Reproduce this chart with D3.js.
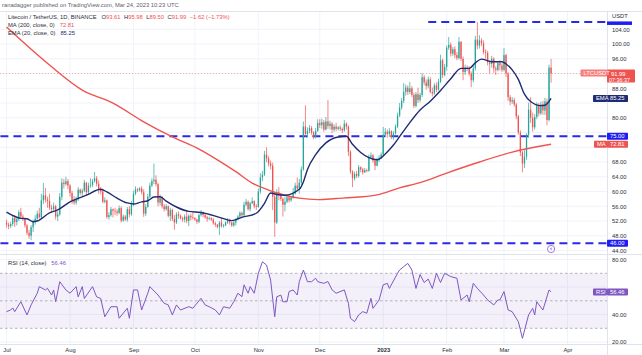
<!DOCTYPE html>
<html><head><meta charset="utf-8">
<script src="https://cdn.jsdelivr.net/npm/d3@7/dist/d3.min.js"></script>
<style>
html,body{margin:0;padding:0;background:#fff;}
svg{display:block;}
text{font-family:"Liberation Sans","DejaVu Sans",Arial,sans-serif;}
</style></head><body>
<svg id="chart" width="642" height="355"></svg>
<script>
// ---------------- DATA ----------------
const startDate = "2022-07-01";
const firstOpen = 51.6;
const closes = [
 // Jul
 51.0,50.6,51.2,52.8,51.7,52.5,54.4,53.2,52.6,50.8, 48.8,48.0,50.3,51.8,52.6,54.0,53.0,57.6,59.0,57.8, 57.4,55.6,55.2,56.0,53.2,53.8,58.6,62.4,62.0,62.8,61.6,
 // Aug
 59.6,57.6,57.0,57.8,60.5,59.6,60.2,62.4,59.8,61.6, 61.8,62.8,63.6,62.1,60.6,60.0,57.2,57.6,53.1,53.6, 55.2,54.8,54.6,54.2,55.5,52.1,53.2,52.4,55.2,53.8,56.5,
 // Sep
 59.4,60.6,60.3,60.8,59.8,54.0,55.8,58.6,61.6,62.8, 63.2,62.0,57.0,58.4,56.0,55.2,56.0,53.4,55.0,52.6, 51.6,53.8,53.4,52.8,52.4,53.2,52.0,53.4,53.0,52.8,
 // Oct
 52.4,51.8,53.6,54.4,53.6,53.0,52.6,52.8,52.4,51.4, 51.0,50.4,51.6,50.6,50.8,51.6,52.2,51.6,50.8,51.6, 52.4,53.2,54.2,53.6,56.4,57.2,55.2,56.8,57.4,56.0,55.8,
 // Nov
 60.0,63.8,64.6,70.0,69.0,67.6,67.0,58.6,51.6,59.8, 59.2,58.0,56.4,57.2,58.4,57.6,58.4,59.4,61.6,60.8, 62.4,66.0,77.6,75.6,76.4,77.2,76.0,74.8,76.4,78.6,
 // Dec
 78.0,78.8,76.8,79.0,77.8,78.4,76.8,77.6,77.0,77.4, 77.0,76.6,78.4,77.6,70.8,65.4,63.6,64.8,64.2,66.6, 66.0,65.2,65.8,65.6,69.4,69.8,68.4,67.0,68.6,69.2,70.0,
 // Jan
 75.4,76.2,75.6,76.4,74.8,75.8,77.6,80.6,82.8,84.6, 87.0,88.2,87.0,88.0,86.2,83.2,86.4,84.8,86.2,91.0, 89.6,88.6,90.4,87.0,86.6,88.8,87.6,89.8,95.6,91.6,93.8,
 // Feb
 99.0,99.8,97.4,98.6,97.0,96.2,100.6,96.0,92.4,93.6, 93.2,92.0,90.2,93.4,101.2,99.6,101.0,100.2,97.8,97.6, 95.0,94.6,96.0,93.4,93.0,94.8,94.2,93.0,
 // Mar
 97.0,92.0,85.6,84.4,84.8,83.6,80.4,76.0,70.6,67.6, 69.4,75.4,82.2,80.0,77.4,80.2,83.4,81.2,83.6,82.0, 84.4,79.4,93.61,91.99
];
const highs = [
 52.3,51.6,51.8,53.4,53.6,53.2,55.0,55.6,53.8,53.0, 51.2,49.6,50.9,52.4,53.6,54.8,55.6,59.4,62.3,61.0, 58.6,59.4,56.4,57.0,56.4,54.6,59.6,63.6,63.4,64.0,63.4,
 62.0,60.2,58.8,58.6,61.2,60.8,60.8,63.2,62.6,62.4, 63.6,63.4,65.3,64.2,63.0,61.2,60.8,58.4,57.8,54.4, 55.8,55.4,55.6,55.2,56.2,56.0,53.8,53.6,55.8,56.0,57.4,
 60.2,61.4,61.0,61.2,61.4,60.6,56.6,59.4,62.4,63.6, 67.6,64.4,62.4,59.2,58.8,56.6,56.6,56.2,55.6,55.4, 53.6,54.4,54.6,53.8,53.2,53.8,55.0,53.8,54.0,54.4,
 53.0,52.6,54.0,55.0,54.6,54.2,53.4,53.2,53.0,52.8, 51.8,51.2,52.0,52.8,51.2,51.9,52.8,52.6,51.8,52.2, 52.8,53.6,54.6,54.6,57.2,58.0,57.6,57.2,58.4,57.6,56.6,
 60.8,65.0,65.6,71.0,72.0,69.6,68.4,67.8,59.2,60.6, 61.2,59.6,58.4,58.6,59.2,58.8,58.8,61.0,62.4,63.8, 63.4,66.8,79.0,83.4,77.4,78.0,77.8,76.4,77.2,79.6,
 79.6,79.8,79.4,80.2,84.8,79.2,78.8,78.2,78.6,77.8, 78.0,77.4,79.4,78.8,78.0,71.2,65.8,65.4,65.6,67.2, 66.8,66.4,66.4,66.2,70.0,70.6,70.2,68.6,69.2,69.8,70.6,
 77.5,77.2,76.8,77.2,76.6,76.4,78.2,81.4,84.0,85.4, 89.4,89.0,88.8,89.7,88.6,86.8,87.0,88.2,86.8,92.1, 91.6,90.4,91.2,91.0,88.2,89.4,89.6,90.6,97.1,96.0,94.6,
 99.6,101.9,100.4,99.2,99.4,97.8,101.9,100.8,96.6,94.4, 94.2,94.0,92.6,94.2,102.2,106.0,102.4,101.6,101.0,98.6, 98.2,95.6,96.8,96.4,94.0,95.4,95.6,94.8,
 98.9,97.4,92.4,86.2,85.6,85.4,84.0,80.8,76.6,71.0, 71.2,75.8,84.1,85.6,81.4,81.0,84.2,84.0,84.4,84.6, 85.4,85.2,94.4,95.98
];
const lows = [
 50.2,49.8,50.1,50.6,50.4,50.8,52.0,52.6,52.0,50.2, 48.2,47.2,46.8,49.0,51.0,52.0,52.6,52.8,56.6,57.0, 55.6,55.0,54.2,54.8,52.4,52.0,53.4,57.6,60.8,61.6,60.6,
 58.6,56.6,56.4,56.4,57.4,59.0,58.8,59.8,59.0,59.2, 61.0,61.2,62.4,61.4,59.4,59.2,56.8,56.8,52.6,52.4, 53.2,53.0,53.6,53.4,53.8,51.6,51.8,52.0,51.8,53.0,53.4,
 56.0,59.0,59.8,60.0,59.2,53.1,53.4,55.6,58.2,61.2, 62.0,61.4,56.0,56.2,55.4,54.6,54.8,53.0,52.0,52.0, 49.6,51.2,52.6,52.4,51.8,51.6,51.4,50.6,52.2,52.4,
 52.0,51.2,51.4,53.2,53.0,52.6,51.8,52.2,52.0,51.0, 50.4,50.0,48.2,50.2,50.2,50.6,51.2,51.0,50.4,50.4, 50.8,52.2,52.8,53.0,53.2,56.0,54.8,54.6,56.6,55.4,55.0,
 55.6,59.4,62.8,64.2,68.0,66.8,66.0,55.0,47.7,51.2, 57.6,57.4,53.2,54.6,56.8,57.0,57.2,58.0,59.2,60.2, 59.4,61.8,65.6,74.8,74.6,75.8,75.4,74.2,74.4,76.2,
 77.2,77.0,76.2,76.6,77.0,76.8,75.8,76.2,76.4,76.6, 76.4,75.8,76.2,76.8,69.6,64.8,61.2,63.0,63.6,63.8, 65.2,64.6,65.0,65.2,65.4,68.8,67.8,65.8,66.8,68.0,68.8,
 69.8,74.8,74.6,74.8,74.2,74.0,75.4,77.2,80.2,82.2, 84.0,86.0,86.2,86.4,85.6,82.6,82.8,84.0,84.2,85.6, 88.8,87.6,88.0,86.6,85.8,86.2,87.0,87.4,89.4,90.8,91.2,
 92.8,98.4,96.6,96.8,96.2,95.6,95.8,95.4,90.2,91.6, 92.6,91.4,88.3,89.6,92.8,98.6,98.8,99.4,97.2,96.0, 94.2,92.0,93.6,92.2,91.6,92.6,92.8,92.4,
 92.6,91.0,84.6,83.4,83.8,83.0,79.6,75.4,69.6,65.2, 66.4,68.6,74.6,78.6,76.2,76.8,79.6,80.4,80.8,80.8, 80.8,78.0,79.0,89.50
];
const maDates = ["2022-07-01","2022-07-22","2022-08-07","2022-08-22","2022-09-06","2022-09-20","2022-10-03","2022-10-12","2022-10-21","2022-10-29","2022-11-06","2022-11-14","2022-11-21","2022-11-30","2022-12-09","2022-12-20","2022-12-29","2023-01-09","2023-01-19","2023-02-01","2023-02-17","2023-03-05","2023-03-24"];
const maValues = [104.6,94.3,87.5,84.0,78.9,74.8,71.5,68.6,65.4,62.3,60.4,59.0,58.2,57.8,58.1,58.5,59.1,61.0,62.4,65.0,68.0,70.7,72.81];
const emaDates = ["2022-07-01","2022-07-08","2022-07-11","2022-07-14","2022-07-16","2022-07-22","2022-07-26","2022-08-01","2022-08-09","2022-08-16","2022-08-19","2022-08-24","2022-08-29","2022-09-01","2022-09-05","2022-09-08","2022-09-11","2022-09-14","2022-09-17","2022-09-22","2022-09-28","2022-10-04","2022-10-13","2022-10-19","2022-10-24","2022-10-31","2022-11-04","2022-11-07","2022-11-10","2022-11-14","2022-11-21","2022-11-23","2022-11-25","2022-11-29","2022-12-04","2022-12-10","2022-12-14","2022-12-17","2022-12-21","2022-12-25","2022-12-29","2023-01-02","2023-01-06","2023-01-09","2023-01-14","2023-01-19","2023-01-24","2023-01-29","2023-02-03","2023-02-08","2023-02-12","2023-02-15","2023-02-18","2023-02-23","2023-02-28","2023-03-02","2023-03-05","2023-03-08","2023-03-11","2023-03-14","2023-03-19","2023-03-21","2023-03-24"];
const emaValues = [54.4,52.7,52.6,51.8,52.0,54.2,55.0,57.2,59.0,60.6,59.9,58.2,56.9,56.6,57.2,57.5,58.5,58.6,57.4,55.8,54.6,54.3,53.0,52.1,53.0,54.1,56.8,59.6,59.2,59.0,60.6,62.6,66.0,70.0,73.2,74.8,75.0,72.8,70.6,69.2,68.6,70.2,72.6,74.9,78.7,82.1,84.5,87.4,90.6,93.4,93.4,94.9,95.9,95.2,95.2,94.6,93.0,90.4,86.4,84.4,83.3,83.4,85.25];
const rsiDates = ["2022-07-01","2022-07-03","2022-07-04","2022-07-05","2022-07-07","2022-07-08","2022-07-11","2022-07-13","2022-07-16","2022-07-17","2022-07-20","2022-07-21","2022-07-23","2022-07-24","2022-07-25","2022-07-27","2022-07-30","2022-08-01","2022-08-04","2022-08-05","2022-08-07","2022-08-08","2022-08-12","2022-08-14","2022-08-16","2022-08-18","2022-08-21","2022-08-24","2022-08-25","2022-08-29","2022-08-30","2022-09-01","2022-09-03","2022-09-05","2022-09-08","2022-09-09","2022-09-13","2022-09-16","2022-09-18","2022-09-20","2022-09-22","2022-09-24","2022-09-28","2022-09-30","2022-10-04","2022-10-06","2022-10-08","2022-10-11","2022-10-13","2022-10-15","2022-10-18","2022-10-20","2022-10-22","2022-10-24","2022-10-25","2022-10-27","2022-10-28","2022-10-30","2022-11-01","2022-11-03","2022-11-05","2022-11-07","2022-11-09","2022-11-10","2022-11-12","2022-11-13","2022-11-15","2022-11-16","2022-11-18","2022-11-20","2022-11-21","2022-11-23","2022-11-25","2022-11-27","2022-11-29","2022-11-30","2022-12-03","2022-12-05","2022-12-07","2022-12-09","2022-12-13","2022-12-15","2022-12-16","2022-12-18","2022-12-20","2022-12-22","2022-12-24","2022-12-26","2022-12-27","2022-12-30","2023-01-01","2023-01-03","2023-01-04","2023-01-08","2023-01-09","2023-01-11","2023-01-13","2023-01-15","2023-01-17","2023-01-19","2023-01-21","2023-01-23","2023-01-25","2023-01-27","2023-01-29","2023-01-31","2023-02-03","2023-02-06","2023-02-08","2023-02-11","2023-02-12","2023-02-14","2023-02-16","2023-02-19","2023-02-21","2023-02-24","2023-02-26","2023-02-27","2023-03-01","2023-03-03","2023-03-05","2023-03-08","2023-03-09","2023-03-10","2023-03-13","2023-03-15","2023-03-16","2023-03-17","2023-03-20","2023-03-23","2023-03-24"];
const rsiValues = [42.1,43.3,44.8,42.1,47.0,49.3,39.7,47.0,55.5,60.3,57.9,59.1,54.2,57.9,49.3,63.9,57.9,55.5,60.3,52.9,60.3,51.7,60.3,52.9,51.7,38.4,45.7,45.7,37.3,44.6,37.3,57.9,57.9,43.3,55.5,60.3,54.2,48.2,47.0,39.7,47.0,43.3,45.7,44.6,51.8,47.0,45.7,43.3,39.7,45.7,44.6,49.3,55.5,53.0,61.6,55.5,60.3,55.5,70.0,78.4,76.0,65.1,38.4,52.9,54.2,49.3,49.3,56.7,57.9,54.2,63.9,72.4,63.9,63.9,66.4,63.9,62.7,64.0,58.0,55.5,57.9,48.2,37.3,34.8,39.7,42.1,41.0,51.8,44.5,50.6,61.6,62.7,59.0,70.0,72.4,74.9,77.2,72.4,59.0,69.1,63.3,65.8,59.0,70.0,63.3,70.0,67.6,66.4,50.6,54.2,49.3,62.7,59.0,54.2,50.6,47.0,50.6,50.6,56.7,43.3,42.1,34.8,28.8,22.7,39.7,44.5,39.7,49.3,43.3,57.9,56.46];
const levels = [106, 75, 46];
const levelStarts = ["2023-01-23", "2022-06-28", "2022-06-28"];
const priceTicks = [44,48,52,56,60,64,68,72,76,80,84,88,92,96,100,104];
const rsiTicks = [20,40,60,80];
const rsiBands = [70,50,30];
const monthDates = ["2022-07-01","2022-08-01","2022-09-01","2022-10-01","2022-11-01","2022-12-01","2023-01-01","2023-02-01","2023-03-01","2023-04-01"];
const monthLabels = ["Jul","Aug","Sep","Oct","Nov","Dec","2023","Feb","Mar","Apr"];

// ---------------- LAYOUT ----------------
const svg = d3.select("#chart");
const W = 642, H = 355;
const plotR = 607, mainTop = 11.5, mainBot = 254.5, rsiTop = 254.5, rsiBot = 344.5;
const FS = 5.8;
const parse = d3.utcParse("%Y-%m-%d");
const x = d3.scaleUtc().domain([parse("2022-08-01"), parse("2023-03-01")]).range([70, 504]);
const y = d3.scaleLinear().domain([44, 104]).range([250.5, 29.3]);
const yr = d3.scaleLinear().domain([30, 70]).range([328.3, 273.3]);

const colUp = "#26a69a", colDn = "#ef5350", gridC = "#f0f3fa", sepC = "#e0e3eb";
const maC = "#ef5350", emaC = "#1f2b73", lvlC = "#2a2ae6", lvlBox = "#1e1ef2", rsiC = "#7e57c2";

const defs = svg.append("defs");
defs.append("clipPath").attr("id", "mainClip").append("rect")
  .attr("x", 0).attr("y", mainTop).attr("width", plotR).attr("height", mainBot - mainTop);
defs.append("clipPath").attr("id", "rsiClip").append("rect")
  .attr("x", 0).attr("y", rsiTop).attr("width", plotR).attr("height", rsiBot - rsiTop);

// grid
const grid = svg.append("g");
grid.selectAll(".vg").data(monthDates).join("line")
  .attr("x1", d => x(parse(d))).attr("x2", d => x(parse(d)))
  .attr("y1", mainTop).attr("y2", rsiBot).attr("stroke", gridC).attr("stroke-width", 1);
grid.selectAll(".hg").data(priceTicks).join("line")
  .attr("x1", 0).attr("x2", plotR).attr("y1", d => y(d)).attr("y2", d => y(d))
  .attr("stroke", gridC).attr("stroke-width", 1);
grid.selectAll(".hr").data(rsiTicks).join("line")
  .attr("x1", 0).attr("x2", plotR).attr("y1", d => yr(d)).attr("y2", d => yr(d))
  .attr("stroke", gridC).attr("stroke-width", 1);

// ---------------- MAIN PANE ----------------
const main = svg.append("g").attr("clip-path", "url(#mainClip)");
const candles = closes.map((c, i) => ({
  date: d3.utcDay.offset(parse(startDate), i),
  open: i === 0 ? firstOpen : closes[i - 1],
  close: c, high: highs[i], low: lows[i]
}));

main.selectAll(".lvl").data(levels).join("line")
  .attr("x1", (d, i) => x(parse(levelStarts[i]))).attr("x2", plotR)
  .attr("y1", d => y(d)).attr("y2", d => y(d))
  .attr("stroke", lvlC).attr("stroke-width", 2).attr("stroke-dasharray", "8,5");

const last = candles[candles.length - 1];
main.append("line").attr("x1", 0).attr("x2", plotR)
  .attr("y1", y(last.close)).attr("y2", y(last.close))
  .attr("stroke", colDn).attr("stroke-opacity", 0.55).attr("stroke-width", 0.8).attr("stroke-dasharray", "1,2");

const cg = main.append("g");
cg.selectAll(".wick").data(candles).join("line")
  .attr("x1", d => x(d.date)).attr("x2", d => x(d.date))
  .attr("y1", d => y(d.high)).attr("y2", d => y(d.low))
  .attr("stroke", d => d.close >= d.open ? colUp : colDn).attr("stroke-width", 0.7);
cg.selectAll(".body").data(candles).join("rect")
  .attr("x", d => x(d.date) - 0.65).attr("width", 1.3)
  .attr("y", d => y(Math.max(d.open, d.close)))
  .attr("height", d => Math.max(0.6, Math.abs(y(d.open) - y(d.close))))
  .attr("fill", d => d.close >= d.open ? colUp : colDn);

const lineGen = d3.line().x(d => x(d[0])).y(d => y(d[1])).curve(d3.curveMonotoneX);
main.append("path").datum(maDates.map((d, i) => [parse(d), maValues[i]]))
  .attr("d", lineGen).attr("fill", "none").attr("stroke", maC).attr("stroke-width", 1.4);
main.append("path").datum(emaDates.map((d, i) => [parse(d), emaValues[i]]))
  .attr("d", lineGen).attr("fill", "none").attr("stroke", emaC).attr("stroke-width", 1.4);

// ---------------- RSI PANE ----------------
const rsiG = svg.append("g").attr("clip-path", "url(#rsiClip)");
rsiG.append("rect").attr("x", 0).attr("width", plotR)
  .attr("y", yr(70)).attr("height", yr(30) - yr(70)).attr("fill", "rgba(126,87,194,0.09)");
rsiG.selectAll(".band").data(rsiBands).join("line")
  .attr("x1", 0).attr("x2", plotR).attr("y1", d => yr(d)).attr("y2", d => yr(d))
  .attr("stroke", "#9598a1").attr("stroke-width", 0.7).attr("stroke-dasharray", "2.5,2.5");
rsiG.append("path").datum(rsiDates.map((d, i) => [parse(d), rsiValues[i]]))
  .attr("d", d3.line().x(d => x(d[0])).y(d => yr(d[1])))
  .attr("fill", "none").attr("stroke", rsiC).attr("stroke-width", 1);

// ---------------- SEPARATORS ----------------
const sep = svg.append("g").attr("stroke", sepC).attr("stroke-width", 1);
sep.append("line").attr("x1", 0).attr("x2", W).attr("y1", mainTop).attr("y2", mainTop);
sep.append("line").attr("x1", 0).attr("x2", W).attr("y1", rsiTop).attr("y2", rsiTop);
sep.append("line").attr("x1", 0).attr("x2", W).attr("y1", rsiBot).attr("y2", rsiBot);
sep.append("line").attr("x1", plotR + 0.5).attr("x2", plotR + 0.5).attr("y1", mainTop).attr("y2", H);

// ---------------- AXES ----------------
const emaLast = emaValues[emaValues.length - 1];
const maLast = maValues[maValues.length - 1];
const rsiLast = rsiValues[rsiValues.length - 1];
// price-scale labels hidden by the coloured value boxes (as TradingView does)
const boxYs = [y(last.close), y(emaLast), y(levels[1]), y(maLast), y(levels[2])];
const shownPriceTicks = priceTicks.filter(t => boxYs.every(b => Math.abs(y(t) - b) >= 6.5));
const shownRsiTicks = rsiTicks.filter(t => Math.abs(yr(t) - yr(rsiLast)) >= 6.5);

function styleAxis(g) {
  g.select(".domain").remove();
  g.selectAll("line").remove();
  g.selectAll("text").attr("font-size", FS).attr("fill", "#2a2e39").attr("font-family", '"Liberation Sans",Arial,sans-serif');
}
svg.append("g").attr("transform", `translate(${plotR},0)`)
  .call(d3.axisRight(y).tickValues(shownPriceTicks).tickFormat(d3.format(".2f")).tickSize(0).tickPadding(5))
  .call(styleAxis);
svg.append("g").attr("transform", `translate(${plotR},0)`)
  .call(d3.axisRight(yr).tickValues(shownRsiTicks).tickFormat(d3.format(".2f")).tickSize(0).tickPadding(5))
  .call(styleAxis);
const xa = svg.append("g").attr("transform", `translate(0,${rsiBot})`)
  .call(d3.axisBottom(x).tickValues(monthDates.map(parse)).tickFormat((d, i) => monthLabels[i]).tickSize(0).tickPadding(3.5))
  .call(styleAxis);
xa.selectAll("text").attr("font-weight", (d, i) => monthLabels[i] === "2023" ? 700 : 400);

svg.append("text").attr("x", 612).attr("y", 18).attr("font-size", FS).attr("fill", "#2a2e39").text("USDT");

// ---------------- PRICE LABEL BOXES ----------------
function box(x0, yc, w, h, fill, txt, tcol) {
  svg.append("rect").attr("x", x0).attr("y", yc - h / 2).attr("width", w).attr("height", h).attr("fill", fill).attr("rx", 0.8);
  if (txt) svg.append("text").attr("x", x0 + 3).attr("y", yc).attr("dy", "0.35em")
    .attr("font-size", FS).attr("fill", tcol || "#fff").text(txt);
}
const f2 = d3.format(".2f");
svg.append("rect").attr("x", plotR).attr("y", y(levels[0]) - 0.5).attr("width", 25).attr("height", 3.5).attr("fill", lvlBox);
svg.append("rect").attr("x", plotR).attr("y", y(last.close) - 4).attr("width", 28).attr("height", 13).attr("fill", colDn).attr("rx", 0.8);
svg.append("text").attr("x", plotR + 4).attr("y", y(last.close)).attr("dy", "0.35em").attr("font-size", FS).attr("fill", "#fff").text(f2(last.close));
svg.append("text").attr("x", plotR + 2).attr("y", y(last.close) + 6.3).attr("dy", "0.35em").attr("font-size", FS - 0.4).attr("fill", "#fff").text("07:36:37");
box(580.5, y(last.close) - 0.5, 26.5, 7, "#f77e7c", "LTCUSDT");
box(plotR, y(emaLast), 21, 7, emaC, f2(emaLast));
box(593, y(emaLast), 14, 7, emaC, "EMA");
box(plotR, y(levels[1]), 21, 7, lvlBox, f2(levels[1]));
box(plotR, y(maLast), 21, 7, maC, f2(maLast));
box(594, y(maLast), 13, 7, maC, "MA");
box(plotR, y(levels[2]), 21, 7, lvlBox, f2(levels[2]));
box(plotR, yr(rsiLast), 21, 7, rsiC, f2(rsiLast));
box(593, yr(rsiLast), 14, 7, rsiC, "RSI");

// event marker
const mk = svg.append("g").attr("transform", `translate(${x(last.date)},${249})`);
mk.append("circle").attr("r", 3.6).attr("fill", "#fff").attr("stroke", "#9c6ade").attr("stroke-width", 0.9);
mk.append("path").attr("d", "M0.6,-2.4 L-1.2,0.3 L0.2,0.3 L-0.6,2.4 L1.3,-0.5 L-0.1,-0.5 Z").attr("fill", "#9c6ade");

// ---------------- LEGENDS ----------------
svg.append("text").attr("x", 2).attr("y", 7).attr("font-size", FS).attr("fill", "#5d606b")
  .text("ranadagger published on TradingView.com, Mar 24, 2023 10:23 UTC");

const chg = last.close - last.open;
const l1 = svg.append("text").attr("x", 8).attr("y", 19.3).attr("font-size", FS).attr("fill", "#2a2e39");
l1.append("tspan").text("Litecoin / TetherUS, 1D, BINANCE");
[["O", last.open], ["H", last.high], ["L", last.low], ["C", last.close]].forEach(([k, v], i) => {
  l1.append("tspan").attr("dx", i === 0 ? 5 : 3.5).text(k);
  l1.append("tspan").attr("fill", colDn).text(f2(v));
});
l1.append("tspan").attr("dx", 3.5).attr("fill", colDn)
  .text(`${f2(chg).replace("-", "−")} (${f2(chg / last.open * 100).replace("-", "−")}%)`);

const l2 = svg.append("text").attr("x", 8).attr("y", 27).attr("font-size", FS).attr("fill", "#2a2e39");
l2.append("tspan").text("MA (200, close, 0)");
l2.append("tspan").attr("dx", 5).attr("fill", maC).text(f2(maLast));
const l3 = svg.append("text").attr("x", 8).attr("y", 35).attr("font-size", FS).attr("fill", "#2a2e39");
l3.append("tspan").text("EMA (20, close, 0)");
l3.append("tspan").attr("dx", 5).attr("fill", emaC).text(f2(emaLast));
const l4 = svg.append("text").attr("x", 8).attr("y", 265).attr("font-size", FS).attr("fill", "#2a2e39");
l4.append("tspan").text("RSI (14, close)");
l4.append("tspan").attr("dx", 5).attr("fill", rsiC).text(f2(rsiLast));
</script>
</body></html>
